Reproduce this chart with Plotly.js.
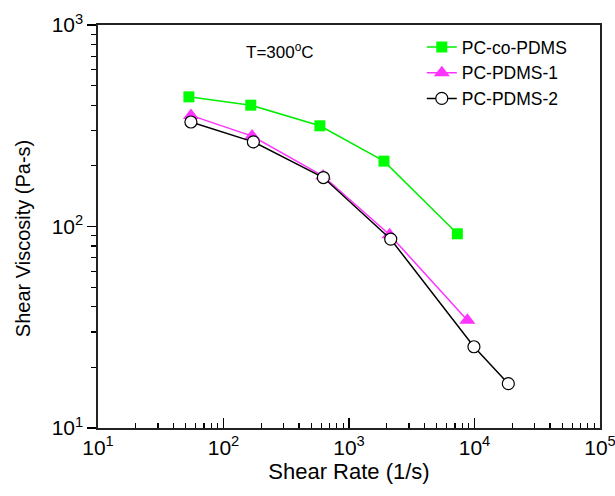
<!DOCTYPE html>
<html>
<head>
<meta charset="utf-8">
<script src="https://cdn.plot.ly/plotly-3.0.1.min.js"></script>
<style>html,body{margin:0;padding:0;background:#fff;}#chart{width:615px;height:496px;}</style>
</head>
<body>
<div id="chart"></div>
<script>
// Data
const seriesNames = ["PC-co-PDMS", "PC-PDMS-1", "PC-PDMS-2"];
const rateCoPDMS = [53, 165, 586, 1900, 7300];
const viscCoPDMS = [440, 400, 316, 211, 92];
const ratePDMS1 = [55, 169, 622, 2105, 8770];
const viscPDMS1 = [356, 281, 178, 91, 34.3];
const ratePDMS2 = [55, 173, 625, 2150, 9900, 18600];
const viscPDMS2 = [330, 263, 175, 86.5, 25.3, 16.6];
const xDecades = [1, 2, 3, 4, 5];
const yDecades = [1, 2, 3];
const xTitle = "Shear Rate (1/s)";
const yTitle = "Shear Viscosity (Pa-s)";
const noteText = "T=300<sup>o</sup>C";

function majorVals(decs){ return decs.map(d => Math.pow(10, d)); }
function majorText(decs){ return decs.map(d => "10<sup>" + d + "</sup>"); }
function minorVals(decs){
  const out = [];
  for (let i = 0; i < decs.length - 1; i++) {
    for (let m = 2; m <= 9; m++) out.push(m * Math.pow(10, decs[i]));
  }
  return out;
}

const font = "Liberation Sans, Arial, sans-serif";

const traces = [
  {x: rateCoPDMS, y: viscCoPDMS, name: seriesNames[0], mode: "lines+markers",
   line: {color: "#00ee00", width: 1.5},
   marker: {symbol: "square", size: 11, color: "#00ff00"}},
  {x: ratePDMS1, y: viscPDMS1, name: seriesNames[1], mode: "lines+markers",
   line: {color: "#ff33ff", width: 1.5},
   marker: {symbol: "triangle-up", size: 14, color: "#ff33ff"}},
  {x: ratePDMS2, y: viscPDMS2, name: seriesNames[2], mode: "lines+markers",
   line: {color: "#000000", width: 1.5},
   marker: {symbol: "circle", size: 12, color: "#ffffff", line: {color: "#000000", width: 1.2}}}
];

const xRange = [Math.log10(majorVals(xDecades)[0]), Math.log10(majorVals(xDecades)[xDecades.length - 1])];
const yRange = [Math.log10(majorVals(yDecades)[0]), Math.log10(majorVals(yDecades)[yDecades.length - 1])];

const layout = {
  width: 615, height: 496,
  margin: {l: 98, r: 15, t: 25, b: 68},
  paper_bgcolor: "#fff", plot_bgcolor: "#fff",
  font: {family: font, color: "#000"},
  showlegend: true,
  legend: {x: 0.645, y: 0.99, xanchor: "left", yanchor: "top",
           font: {size: 17.5, family: font}, bgcolor: "rgba(0,0,0,0)",
           tracegroupgap: 0},
  xaxis: {
    type: "log", range: xRange,
    tickmode: "array", tickvals: majorVals(xDecades), ticktext: majorText(xDecades),
    ticks: "inside", ticklen: 10, tickwidth: 1.5, tickcolor: "#000",
    ticklabeloverflow: "allow",
    minor: {tickmode: "array", tickvals: minorVals(xDecades), ticks: "inside", ticklen: 5, tickwidth: 1.3, tickcolor: "#000", showgrid: false},
    showgrid: false, zeroline: false,
    showline: true, linecolor: "#222", linewidth: 1.6, mirror: true,
    tickfont: {size: 21, family: font},
    title: {text: xTitle, font: {size: 22, family: font}, standoff: 6}
  },
  yaxis: {
    type: "log", range: yRange,
    tickmode: "array", tickvals: majorVals(yDecades), ticktext: majorText(yDecades),
    ticks: "outside", ticklen: 9, tickwidth: 1.5, tickcolor: "#000",
    ticklabeloverflow: "allow",
    minor: {tickmode: "array", tickvals: minorVals(yDecades), ticks: "outside", ticklen: 5, tickwidth: 1.3, tickcolor: "#000", showgrid: false},
    showgrid: false, zeroline: false,
    showline: true, linecolor: "#222", linewidth: 1.6, mirror: true,
    tickfont: {size: 21, family: font}
  },
  annotations: [
    {text: noteText, xref: "paper", yref: "paper", x: 0.3625, y: 0.935,
     xanchor: "center", yanchor: "middle", showarrow: false,
     font: {size: 17, family: font, color: "#000"}},
    {text: yTitle, xref: "paper", yref: "paper", x: -0.149, y: 0.469,
     xanchor: "center", yanchor: "middle", showarrow: false, textangle: -90,
     font: {size: 20, family: font, color: "#000"}}
  ]
};

Plotly.newPlot("chart", traces, layout, {displayModeBar: false, staticPlot: true});
</script>
</body>
</html>
